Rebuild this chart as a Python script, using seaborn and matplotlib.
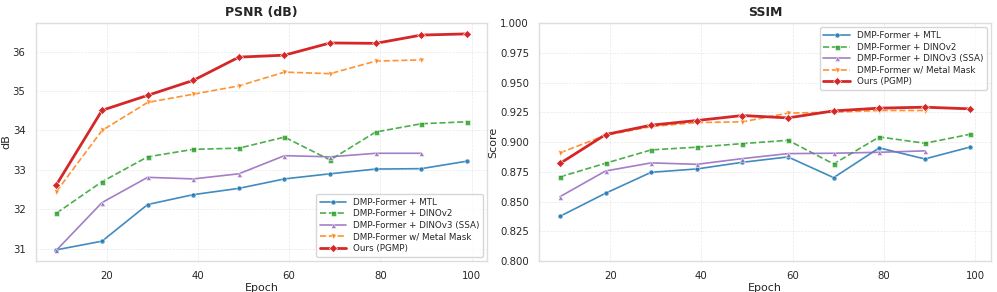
import matplotlib
matplotlib.use("Agg")
import matplotlib.pyplot as plt
import seaborn as sns

# epochs at which each model was evaluated
epochs = [9, 19, 29, 39, 49, 59, 69, 79, 89, 99]

labels = [
    "DMP-Former + MTL",
    "DMP-Former + DINOv2",
    "DMP-Former + DINOv3 (SSA)",
    "DMP-Former w/ Metal Mask",
    "Ours (PGMP)",
]

psnr_mtl = [30.97, 31.19, 32.12, 32.37, 32.53, 32.77, 32.90, 33.02, 33.03, 33.22]
psnr_dinov2 = [31.90, 32.70, 33.33, 33.52, 33.55, 33.83, 33.25, 33.96, 34.17, 34.22]
psnr_dinov3 = [30.96, 32.17, 32.81, 32.77, 32.90, 33.36, 33.33, 33.42, 33.42]
psnr_mask = [32.45, 34.00, 34.71, 34.92, 35.13, 35.48, 35.44, 35.76, 35.79]
psnr_ours = [32.62, 34.51, 34.89, 35.27, 35.86, 35.91, 36.22, 36.21, 36.42, 36.45]

ssim_mtl = [0.8376, 0.8570, 0.8746, 0.8774, 0.8830, 0.8875, 0.8701, 0.8951, 0.8858, 0.8959]
ssim_dinov2 = [0.8707, 0.8822, 0.8934, 0.8957, 0.8987, 0.9015, 0.8816, 0.9043, 0.8990, 0.9066]
ssim_dinov3 = [0.8541, 0.8757, 0.8825, 0.8813, 0.8861, 0.8903, 0.8906, 0.8914, 0.8926]
ssim_mask = [0.8909, 0.9057, 0.9130, 0.9164, 0.9170, 0.9243, 0.9251, 0.9265, 0.9265]
ssim_ours = [0.8820, 0.9063, 0.9142, 0.9181, 0.9223, 0.9203, 0.9262, 0.9285, 0.9293, 0.9279]

colors = ["#1f77b4", "#2ca02c", "#9467bd", "#ff7f0e", "#d62728"]
markers = ["o", "s", "^", "v", "D"]
linestyles = ["-", "--", "-", "--", "-"]
widths = [1.2, 1.2, 1.2, 1.2, 2.0]
alphas = [0.85, 0.85, 0.85, 0.85, 1.0]

sns.set_theme(style="whitegrid")
plt.rcParams["font.family"] = ["DejaVu Sans"]

fig, axes = plt.subplots(1, 2, figsize=(9.97, 2.92), dpi=100)
fig.subplots_adjust(left=0.036, right=0.994, top=0.921, bottom=0.106, wspace=0.115)


def draw(ax, series, title, ylabel, legend_loc):
    for i, vals in enumerate(series):
        sns.lineplot(ax=ax, x=epochs[:len(vals)], y=vals, color=colors[i],
                     marker=markers[i], markersize=3.6,
                     markeredgewidth=0.4, linestyle=linestyles[i],
                     linewidth=widths[i], alpha=alphas[i], label=labels[i])
    ax.set_title(title, fontsize=9, fontweight="bold", pad=5)
    ax.set_xlabel("Epoch", fontsize=8, labelpad=1)
    ax.set_ylabel(ylabel, fontsize=8, labelpad=1)
    ax.tick_params(labelsize=7.3, pad=1.5)
    ax.set_xticks([20, 40, 60, 80, 100])
    ax.grid(True, linestyle="--", linewidth=0.5, alpha=0.45)
    for s in ax.spines.values():
        s.set_color("#dddddd")
        s.set_linewidth(1.0)
    ax.legend(loc=legend_loc, fontsize=6.3, frameon=True, handlelength=3,
              borderpad=0.4, labelspacing=0.3)


draw(axes[0], [psnr_mtl, psnr_dinov2, psnr_dinov3, psnr_mask, psnr_ours],
     "PSNR (dB)", "dB", "lower right")
draw(axes[1], [ssim_mtl, ssim_dinov2, ssim_dinov3, ssim_mask, ssim_ours],
     "SSIM", "Score", "upper right")
axes[1].set_ylim(0.8, 1.0)

plt.savefig("out.png", dpi=100)
plt.close()
